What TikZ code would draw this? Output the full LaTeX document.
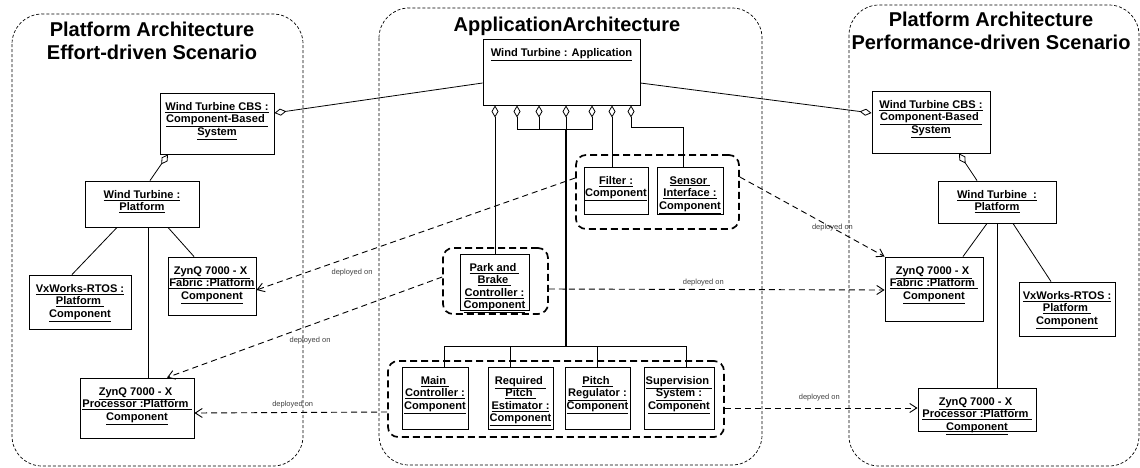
\documentclass[tikz,border=0pt]{standalone}
\usepackage{fontspec}
\setmainfont{Liberation Sans}
\usetikzlibrary{arrows.meta}

\begin{document}
\begin{tikzpicture}[x=1pt,y=-1pt,
    frame/.style={dash pattern=on 3pt off 2pt, line width=0.7pt, rounded corners=30pt},
    heading/.style={font=\fontsize{20}{23.5}\selectfont\bfseries, align=center, inner sep=0pt},
    obj/.style={draw, line width=0.9pt, inner sep=0pt},
    objname/.style={anchor=north, align=center, inner xsep=1pt, inner ysep=9.5pt,
        font=\fontsize{11.1}{12.5}\selectfont\bfseries},
    group/.style={draw, dash pattern=on 7pt off 4pt, line width=1.7pt, rounded corners=10pt, inner sep=0pt},
    odiamond/.tip={Diamond[open,length=12pt,width=7pt]},
    link/.style={line width=0.8pt},
    agg/.style={link, odiamond-},
    aggboth/.style={link, odiamond-odiamond},
    trunk/.style={line width=2pt},
    deploy/.style={line width=0.9pt, dash pattern=on 6pt off 4pt, -{Straight Barb[length=7pt,width=9pt]}},
    deplabel/.style={font=\fontsize{7.5}{9}\selectfont, text=black!75, inner sep=1pt}]
    \useasboundingbox (0,0) rectangle (1140,467);

    % the three architecture frames
    \draw[frame] (12,14) rectangle (303,466);
    \draw[frame] (379,8) rectangle (762,465);
    \draw[frame] (849,5) rectangle (1139,466);
    \node[heading] (effTitle) at (152,41) {Platform Architecture\\Effort-driven Scenario};
    \node[heading, anchor=base] (appTitle) at (567,31) {ApplicationArchitecture};
    \node[heading] (perfTitle) at (991,31) {Platform Architecture\\Performance-driven Scenario};

    % effort-driven platform
    \node[obj, minimum width=114pt, minimum height=61pt, label={[objname]north:{\underline{Wind Turbine CBS :}\\\underline{Component-Based\ }\\\underline{System}}}] (cbsL) at (217,123.5) {};
    \node[obj, minimum width=114pt, minimum height=46pt, label={[objname]north:{\underline{Wind Turbine :}\\\underline{Platform}}}] (platL) at (142,204) {};
    \node[obj, minimum width=102pt, minimum height=54pt, label={[objname]north:{\underline{VxWorks-RTOS :}\\\underline{Platform\ }\\\underline{Component}}}] (vxL) at (80,302) {};
    \node[obj, minimum width=88pt, minimum height=58pt, label={[objname]north:{\underline{ZynQ 7000 - X\ }\\\underline{Fabric :Platform}\\\underline{Component}}}] (fabL) at (212,286) {};
    \node[obj, minimum width=114pt, minimum height=60pt, label={[objname]north:{\underline{ZynQ 7000 - X\ }\\\underline{Processor :Platform\ }\\\underline{Component}}}] (procL) at (137,408) {};

    % application
    \node[obj, minimum width=157pt, minimum height=66pt, label={[objname]north:{\underline{Wind Turbine : Application}}}] (appB) at (561.5,72) {};
    \node[group, minimum width=163pt, minimum height=74pt] (grpFS) at (657.5,192) {};
    \node[obj, minimum width=64pt, minimum height=47pt, label={[objname]north:{\underline{Filter :}\\\underline{Component}}}] (filt) at (616,190.5) {};
    \node[obj, minimum width=66pt, minimum height=47pt, label={[objname]north:{\underline{Sensor\ }\\\underline{Interface :}\\\underline{Component}}}] (sens) at (690,190.5) {};
    \node[group, minimum width=105pt, minimum height=66pt] (grpPB) at (495.5,281) {};
    \node[obj, minimum width=69pt, minimum height=56pt, label={[objname]north:{\underline{Park and\ }\\\underline{Brake\ }\\\underline{Controller :}\\\underline{Component}}}] (park) at (494.5,282) {};
    \node[group, minimum width=336pt, minimum height=76pt] (grpCtl) at (556,399) {};
    \node[obj, minimum width=66pt, minimum height=62pt, label={[objname]north:{\underline{Main\ }\\\underline{Controller :}\\\underline{Component}}}] (mainC) at (435,398) {};
    \node[obj, minimum width=65pt, minimum height=62pt, label={[objname]north:{\underline{Required\ }\\\underline{Pitch\ }\\\underline{Estimator :}\\\underline{Component}}}] (reqP) at (520.5,398) {};
    \node[obj, minimum width=65pt, minimum height=62pt, label={[objname]north:{\underline{Pitch\ }\\\underline{Regulator :}\\\underline{Component}}}] (pitch) at (597.5,398) {};
    \node[obj, minimum width=70pt, minimum height=62pt, label={[objname]north:{\underline{Supervision\ }\\\underline{System :}\\\underline{Component}}}] (superv) at (679,398) {};

    % performance-driven platform
    \node[obj, minimum width=118pt, minimum height=62pt, label={[objname]north:{\underline{Wind Turbine CBS :}\\\underline{Component-Based\ }\\\underline{System}}}] (cbsR) at (931,122) {};
    \node[obj, minimum width=118pt, minimum height=42pt, label={[objname]north:{\underline{Wind Turbine\ \ :}\\\underline{Platform}}}] (platR) at (997,202) {};
    \node[obj, minimum width=98pt, minimum height=64pt, label={[objname]north:{\underline{ZynQ 7000 - X\ }\\\underline{Fabric :Platform\ }\\\underline{Component}}}] (fabR) at (934,289) {};
    \node[obj, minimum width=96pt, minimum height=54pt, label={[objname]north:{\underline{VxWorks-RTOS :}\\\underline{Platform\ }\\\underline{Component}}}] (vxR) at (1067,309) {};
    \node[obj, minimum width=118pt, minimum height=43pt, label={[objname]north:{\underline{ZynQ 7000 - X\ }\\\underline{Processor :Platform\ }\\\underline{Component}}}] (procR) at (977,409.5) {};

    % aggregation points under the application
    \coordinate (d1) at ([xshift=-66.5pt]appB.south);
    \coordinate (d2) at ([xshift=-44.5pt]appB.south);
    \coordinate (d3) at ([xshift=-22.5pt]appB.south);
    \coordinate (d4) at ([xshift=4.5pt]appB.south);
    \coordinate (d5) at ([xshift=30.5pt]appB.south);
    \coordinate (d6) at ([xshift=50.5pt]appB.south);
    \coordinate (d7) at ([xshift=69.5pt]appB.south);

    \draw[agg] (d1) -- (d1 |- park.north);
    \draw[aggboth] (d2) -- ++(0,24) -| (d5);
    \draw[agg] (d3) -- ++(0,24);
    \draw[agg] (d4) -- ++(0,24) coordinate (hub);
    \draw[trunk] (hub) -- ++(0,217) coordinate (bus);
    \draw[link] ([xshift=9pt]mainC.north) |- (bus);
    \draw[link] ([xshift=-10.5pt]reqP.north) |- (bus);
    \draw[link] (pitch.north) |- (bus);
    \draw[link] ([xshift=7pt]superv.north) |- (bus);
    \draw[agg] (d6) -- (d6 |- filt.north);
    \draw[agg] (d7) -- ++(0,22) -| ([xshift=-7pt]sens.north);

    % platform structure, left
    \draw[agg] ([yshift=10.5pt]cbsL.east) -- ([yshift=-11pt]appB.west);
    \draw[agg] ([xshift=-49pt]cbsL.south) -- ([xshift=8pt]platL.north);
    \draw[link] ([xshift=-25pt]platL.south) -- ([xshift=-8pt]vxL.north);
    \draw[link] ([xshift=6pt]platL.south) -- ([xshift=11pt]procL.north);
    \draw[link] ([xshift=26pt]platL.south) -- ([xshift=-18pt]fabL.north);

    % platform structure, right
    \draw[agg] ([yshift=9pt]cbsR.west) -- ([yshift=-11pt]appB.east);
    \draw[agg] ([xshift=28pt]cbsR.south) -- ([xshift=-20pt]platR.north);
    \draw[link] ([xshift=-10pt]platR.south) -- ([xshift=29pt]fabR.north);
    \draw[link] (platR.south) -- ([xshift=20pt]procR.north);
    \draw[link] ([xshift=16pt]platR.south) -- ([xshift=-16pt]vxR.north);

    % deployments
    \draw[deploy] ([yshift=14pt]grpFS.west) -- node[deplabel, pos=0.7, below=11pt] {deployed on} ([yshift=-4pt]fabL.east);
    \draw[deploy] ([yshift=4pt]grpPB.west) -- node[deplabel, pos=0.48, below=10pt] {deployed on} ([xshift=30pt]procL.north);
    \draw[deploy] ([yshift=-13pt]grpCtl.west) -- node[deplabel, pos=0.49, above=3pt] {deployed on} ([yshift=-5pt]procL.east);
    \draw[deploy] ([yshift=15pt]grpFS.east) -- node[deplabel, pos=0.64] {deployed on} (fabR.north west);
    \draw[deploy] ([yshift=-8pt]grpPB.east) -- node[deplabel, pos=0.46, above=2pt] {deployed on} ([yshift=-1pt]fabR.west);
    \draw[deploy] ([yshift=-9pt]grpCtl.east) -- node[deplabel, pos=0.49, above=6pt] {deployed on} ([yshift=1.5pt]procR.west);
\end{tikzpicture}
\end{document}
